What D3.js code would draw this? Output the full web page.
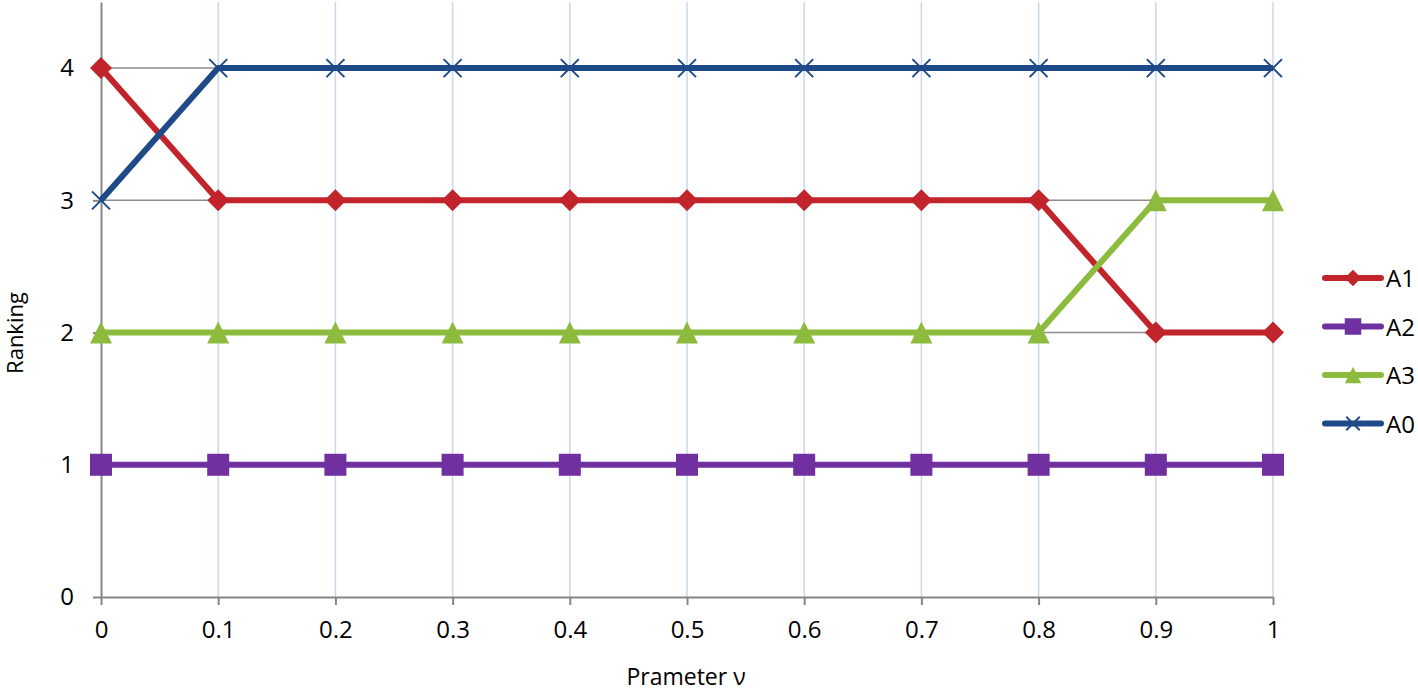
<!DOCTYPE html>
<html>
<head>
<meta charset="utf-8">
<script src="https://cdn.jsdelivr.net/npm/d3@7"></script>
<style>
  body { margin: 0; background: #fff; }
  text { font-family: "Open Sans", "Liberation Sans", sans-serif; }
</style>
</head>
<body>
<script>
var xValues = [0, 0.1, 0.2, 0.3, 0.4, 0.5, 0.6, 0.7, 0.8, 0.9, 1];
var xTickLabels = ["0", "0.1", "0.2", "0.3", "0.4", "0.5", "0.6", "0.7", "0.8", "0.9", "1"];
var yTicks = [0, 1, 2, 3, 4];
var a1 = [4, 3, 3, 3, 3, 3, 3, 3, 3, 2, 2];
var a2 = [1, 1, 1, 1, 1, 1, 1, 1, 1, 1, 1];
var a3 = [2, 2, 2, 2, 2, 2, 2, 2, 2, 3, 3];
var a0 = [3, 4, 4, 4, 4, 4, 4, 4, 4, 4, 4];
var seriesNames = ["A1", "A2", "A3", "A0"];
var seriesColors = ["#c1252b", "#7030a0", "#8dbb3e", "#1f4a88"];
var seriesMarkers = ["diamond", "square", "triangle", "cross"];

var series = [a1, a2, a3, a0].map(function(v, i) {
  return { name: seriesNames[i], values: v, color: seriesColors[i], marker: seriesMarkers[i] };
});

var svg = d3.select("body").append("svg")
  .attr("width", 1418)
  .attr("height", 691);

var x = d3.scaleLinear().domain([0, 1]).range([101, 1273]);
var y = d3.scaleLinear().domain([0, 4.5]).range([597, 2]);

// vertical grid
svg.append("g").selectAll("line")
  .data(xValues.slice(1))
  .enter().append("line")
  .attr("x1", d => x(d)).attr("x2", d => x(d))
  .attr("y1", y(4.5)).attr("y2", y(0))
  .attr("stroke", "#c9d8ea").attr("stroke-width", 1.5);

// horizontal grid
svg.append("g").selectAll("line")
  .data(yTicks.slice(1))
  .enter().append("line")
  .attr("x1", x(0)).attr("x2", x(1))
  .attr("y1", d => y(d)).attr("y2", d => y(d))
  .attr("stroke", "#8c8c8c").attr("stroke-width", 1.5);

// axes
var xAxis = svg.append("g")
  .attr("transform", "translate(0," + y(0) + ")")
  .call(d3.axisBottom(x).tickValues(xValues).tickFormat((d, i) => xTickLabels[i]).tickSize(8).tickSizeOuter(0).tickPadding(16));
var yAxis = svg.append("g")
  .attr("transform", "translate(" + x(0) + ",0)")
  .call(d3.axisLeft(y).tickValues(yTicks).tickFormat(d3.format("d")).tickSize(8).tickSizeOuter(0).tickPadding(19));

[xAxis, yAxis].forEach(function(a) {
  a.attr("font-size", 24).attr("font-family", '"Open Sans", "Liberation Sans", sans-serif');
  a.select(".domain").attr("stroke", "#868686").attr("stroke-width", 2);
  a.selectAll(".tick line").attr("stroke", "#868686").attr("stroke-width", 2);
  a.selectAll(".tick text").attr("fill", "#000");
});

// axis titles
svg.append("text")
  .attr("x", 686).attr("y", 685)
  .attr("text-anchor", "middle")
  .attr("font-size", 23)
  .text("Prameter ν");
svg.append("text")
  .attr("transform", "translate(23,333) rotate(-90)")
  .attr("text-anchor", "middle")
  .attr("font-size", 22)
  .text("Ranking");

function drawMarker(g, type, color, cx, cy, s) {
  s = s || 1;
  if (type === "diamond") {
    var r = 11 * s;
    g.append("path")
      .attr("d", "M" + cx + "," + (cy - r) + "L" + (cx + r) + "," + cy + "L" + cx + "," + (cy + r) + "L" + (cx - r) + "," + cy + "Z")
      .attr("fill", color);
  } else if (type === "square") {
    var h = 11 * s;
    g.append("rect")
      .attr("x", cx - h).attr("y", cy - h)
      .attr("width", 2 * h).attr("height", 2 * h)
      .attr("fill", color);
  } else if (type === "triangle") {
    var t = 11 * s;
    g.append("path")
      .attr("d", "M" + cx + "," + (cy - t) + "L" + (cx + t) + "," + (cy + t) + "L" + (cx - t) + "," + (cy + t) + "Z")
      .attr("fill", color);
  } else {
    var c = 9 * s;
    g.append("path")
      .attr("d", "M" + (cx - c) + "," + (cy - c) + "L" + (cx + c) + "," + (cy + c) + "M" + (cx - c) + "," + (cy + c) + "L" + (cx + c) + "," + (cy - c))
      .attr("stroke", color).attr("stroke-width", 2).attr("fill", "none");
  }
}

var line = d3.line()
  .x((d, i) => x(xValues[i]))
  .y(d => y(d));

series.forEach(function(s) {
  var g = svg.append("g");
  g.append("path")
    .attr("d", line(s.values))
    .attr("fill", "none")
    .attr("stroke", s.color)
    .attr("stroke-width", 6)
    .attr("stroke-linejoin", "round");
  s.values.forEach(function(v, i) {
    drawMarker(g, s.marker, s.color, x(xValues[i]), y(v));
  });
});

// legend
var legend = svg.append("g");
series.forEach(function(s, i) {
  var ly = 278 + i * 48.5;
  legend.append("line")
    .attr("x1", 1325).attr("x2", 1381)
    .attr("y1", ly).attr("y2", ly)
    .attr("stroke", s.color).attr("stroke-width", 6)
    .attr("stroke-linecap", "round");
  drawMarker(legend, s.marker, s.color, 1353, ly, 0.75);
  legend.append("text")
    .attr("x", 1386).attr("y", ly + 9)
    .attr("font-size", 24)
    .text(s.name);
});
</script>
</body>
</html>
